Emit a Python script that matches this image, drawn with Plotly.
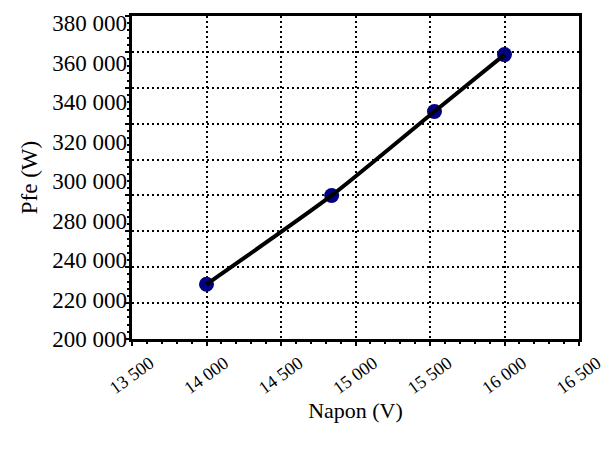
import plotly.graph_objects as go

# Data
napon = [14000, 14840, 15530, 16000]          # Napon (V)
pfe = [230500, 280000, 326800, 358500]        # Pfe (W)

# Tick labels as printed on the chart
y_ticktext = ["200 000", "220 000", "240 000", "280 000", "300 000",
              "320 000", "340 000", "360 000", "380 000"]
x_tickvals = [13500, 14000, 14500, 15000, 15500, 16000, 16500]
x_ticktext = ["13 500", "14 000", "14 500", "15 000", "15 500", "16 000", "16 500"]

YMIN, YMAX = 200000, 380000
# printed labels are spaced evenly over the axis (not aligned with gridlines)
label_step = 22000
y_label_pos = [YMIN + i * label_step for i in range(len(y_ticktext))]

fig = go.Figure()
fig.add_trace(go.Scatter(
    x=napon, y=pfe, mode="markers",
    marker=dict(color="#000080", size=15, line=dict(width=0)),
    showlegend=False, hoverinfo="skip"))
fig.add_trace(go.Scatter(
    x=napon, y=pfe, mode="lines",
    line=dict(color="black", width=4, shape="spline", smoothing=0.6),
    showlegend=False))

serif = "Liberation Serif, Times New Roman, serif"

# page body adds an 8px offset, so the figure is sized to fit the window
fig.update_layout(
    width=608, height=441,
    margin=dict(l=124, r=37, t=8, b=110),
    paper_bgcolor="white", plot_bgcolor="white",
    font=dict(family=serif, color="black"),
    xaxis=dict(
        range=[13500, 16500], automargin=False,
        tickvals=x_tickvals, ticktext=x_ticktext,
        tickangle=-36,
        tickfont=dict(family=serif, size=18, color="black"),
        ticklabelshift=18,
        ticks="outside", ticklen=4, tickwidth=2, tickcolor="black",
        minor=dict(dtick=100, ticks="outside", ticklen=2, tickwidth=2, tickcolor="black", showgrid=False),
        showgrid=True, gridcolor="black", gridwidth=1.5, griddash="2px,3px",
        showline=True, linecolor="black", linewidth=2.5, mirror=True,
        zeroline=False,
        title=dict(text="Napon (V)", font=dict(family=serif, size=22, color="black"), standoff=6),
    ),
    yaxis=dict(
        range=[YMIN, YMAX], automargin=False,
        dtick=20000, tick0=YMIN,
        showticklabels=False,
        ticks="outside", ticklen=4, tickwidth=2, tickcolor="black",
        minor=dict(dtick=4000, ticks="outside", ticklen=2, tickwidth=2, tickcolor="black", showgrid=False),
        showgrid=True, gridcolor="black", gridwidth=1.5, griddash="2px,3px",
        showline=True, linecolor="black", linewidth=2.5, mirror=True,
        zeroline=False,
    ),
    yaxis2=dict(
        overlaying="y", side="left", range=[YMIN, YMAX], automargin=False,
        tickvals=y_label_pos, ticktext=y_ticktext,
        tickfont=dict(family=serif, size=23, color="black"),
        ticks="", showgrid=False, showline=False, zeroline=False,
        ticklabelstandoff=4,
        title=dict(text="Pfe (W)", font=dict(family=serif, size=23, color="black"), standoff=8),
    ),
)
# invisible trace to activate yaxis2
fig.add_trace(go.Scatter(x=[napon[0]], y=[pfe[0]], yaxis="y2", mode="markers",
                         marker=dict(opacity=0), showlegend=False, hoverinfo="skip"))

fig.write_html("out.html")
